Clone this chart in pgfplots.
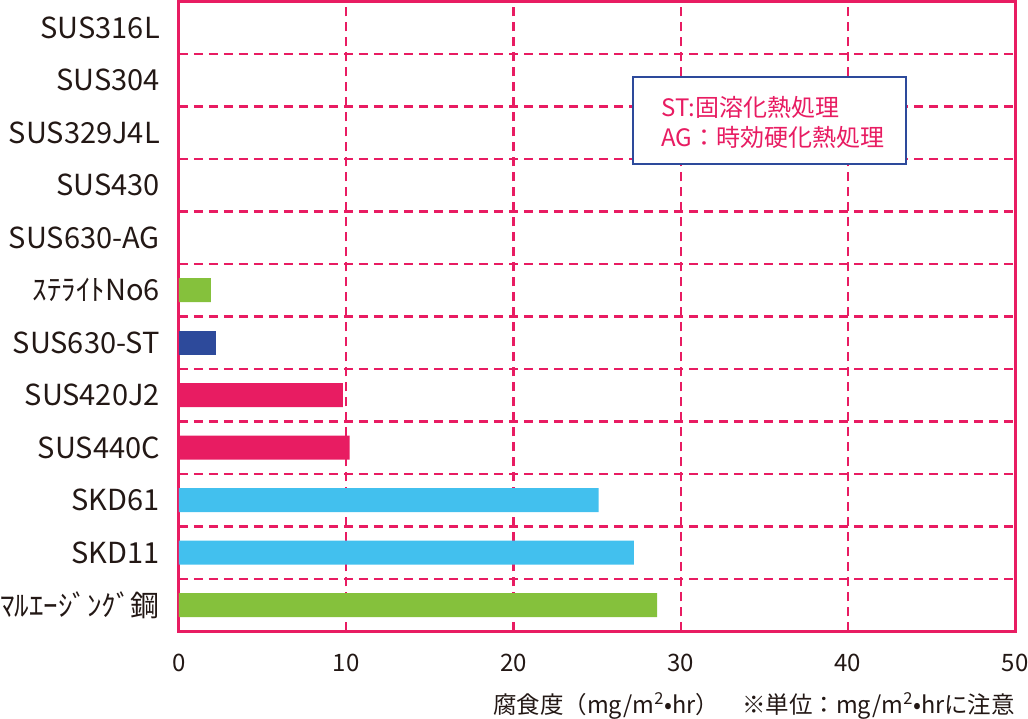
\documentclass[border=0pt]{standalone}
\usepackage{fontspec}
\setmainfont{Noto Sans CJK JP}
\usepackage{pgfplots}
\pgfplotsset{compat=1.18}
\definecolor{pk}{HTML}{E81C62}
\definecolor{gr}{HTML}{85C13C}
\definecolor{db}{HTML}{2D4A9B}
\definecolor{lb}{HTML}{42C0EE}
\definecolor{tx}{HTML}{231815}
\begin{document}
\begin{tikzpicture}
\path[use as bounding box] (-179pt,-87.5pt) rectangle (849pt,631.5pt);
\begin{axis}[
  at={(0pt,0pt)}, anchor=south west,
  scale only axis, width=836pt, height=630pt,
  xbar, bar width=24pt, bar shift=0pt,
  xmin=0, xmax=50, ymin=-0.5, ymax=11.5,
  xtick={0,10,...,50},
  ytick={0,...,11},
  yticklabels={ﾏﾙｴｰｼﾞﾝｸﾞ鋼, SKD11, SKD61, SUS440C, SUS420J2, SUS630-ST, ｽﾃﾗｲﾄNo6, SUS630-AG, SUS430, SUS329J4L, SUS304, SUS316L},
  minor ytick={0.5,1.5,...,10.5},
  xmajorgrids, yminorgrids,
  major grid style={pk, line width=2.2pt, dash pattern=on 9pt off 6pt},
  minor grid style={pk, line width=2.2pt, dash pattern=on 9pt off 6pt},
  axis line style={pk, line width=3pt},
  major tick length=0pt, minor tick length=0pt,
  tick style={draw=none},
  /pgf/number format/assume math mode=true,
  xticklabel style={font=\fontsize{24}{28}\selectfont, text=tx, inner sep=0pt, yshift=-22pt},
  yticklabel style={font=\fontsize{29}{34}\selectfont, text=tx, inner sep=0pt, xshift=-19pt},
]
\addplot[fill=gr, draw=none] coordinates {(28.6,0) (1.9,6)};
\addplot[fill=lb, draw=none] coordinates {(27.2,1) (25.1,2)};
\addplot[fill=pk, draw=none] coordinates {(10.2,3) (9.8,4)};
\addplot[fill=db, draw=none] coordinates {(2.2,5)};
\end{axis}
\draw[db, line width=2pt, fill=white] (454pt,467.5pt) rectangle (727pt,554.5pt);
\node[anchor=west, inner sep=0pt, text=pk, font=\fontsize{24}{28}\selectfont] at (482pt,524.5pt) {ST:固溶化熱処理};
\node[anchor=west, inner sep=0pt, text=pk, font=\fontsize{24}{28}\selectfont] at (482pt,494.5pt) {AG：時効硬化熱処理};
\node[anchor=west, inner sep=0pt, text=tx, font=\fontsize{23.5}{28}\selectfont] at (314pt,-74.5pt) {腐食度（mg/m\textsuperscript{2}•hr）};
\node[anchor=west, inner sep=0pt, text=tx, font=\fontsize{23.5}{28}\selectfont] at (563pt,-74.5pt) {※単位：mg/m\textsuperscript{2}•hrに注意};
\end{tikzpicture}
\end{document}
